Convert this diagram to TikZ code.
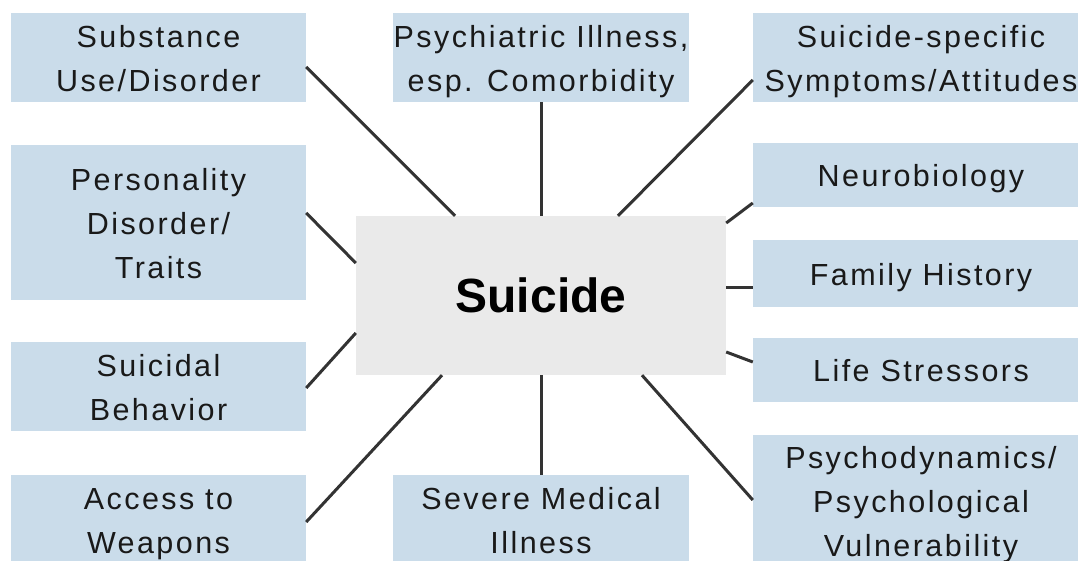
\documentclass[tikz,border=0pt]{standalone}
\usepackage{fontspec}
\setmainfont{Liberation Sans}
\newfontfamily\boxfont[LetterSpace=8]{Liberation Sans}
\newfontfamily\ctrfont{Liberation Sans}
\usetikzlibrary{calc}
\definecolor{boxblue}{HTML}{CADCEA}
\definecolor{ctrgray}{HTML}{EAEAEA}
\definecolor{linegray}{HTML}{333333}
\newcommand{\tx}[1]{\raisebox{-3pt}[\height][\depth]{\begin{tabular}{@{}c@{}}#1\end{tabular}}}
\begin{document}
\begin{tikzpicture}[x=1pt,y=1pt,
  factor/.style={fill=boxblue, draw=none, inner sep=0pt, align=center,
    font=\boxfont\fontsize{30.5}{44}\selectfont, text=black!90},
  hub/.style={fill=ctrgray, draw=none, inner sep=0pt, align=center,
    font=\ctrfont\bfseries\fontsize{48}{52}\selectfont},
  link/.style={draw=linegray, line width=3pt}]
\useasboundingbox (0,0) rectangle (1078,560);
\clip (0,0) rectangle (1078,560);
% left column
\node[factor, minimum width=295pt, minimum height=89pt] (sub) at (158.5,502.5) {\tx{Substance\\Use/Disorder}};
\node[factor, minimum width=295pt, minimum height=155pt] (per) at (158.5,337.5) {\tx{Personality\\Disorder/\\Traits}};
\node[factor, minimum width=295pt, minimum height=89pt] (beh) at (158.5,173.5) {\tx{Suicidal\\Behavior}};
\node[factor, minimum width=295pt, minimum height=89pt] (acc) at (158.5,40.5) {\tx{Access to\\Weapons}};
% middle column
\node[factor, minimum width=296pt, minimum height=89pt] (psy) at (541,502.5) {\tx{Psychiatric Illness,\\esp. Comorbidity}};
\node[factor, minimum width=296pt, minimum height=89pt] (med) at (541,40.5) {\tx{Severe Medical\\Illness}};
\node[hub, minimum width=370pt, minimum height=159pt] (ctr) at (541,264.5) {Suicide};
% right column
\node[factor, minimum width=336pt, minimum height=89pt] (ssp) at (921,502.5) {\tx{Suicide-specific\\Symptoms/Attitudes}};
\node[factor, minimum width=336pt, minimum height=64pt] (neu) at (921,385) {\tx{Neurobiology}};
\node[factor, minimum width=336pt, minimum height=67pt] (fam) at (921,286.5) {\tx{Family History}};
\node[factor, minimum width=336pt, minimum height=64pt] (lif) at (921,190) {\tx{Life Stressors}};
\node[factor, minimum width=336pt, minimum height=128pt] (psd) at (921,59) {\tx{Psychodynamics/\\Psychological\\Vulnerability}};
% connectors
\draw[link] ([yshift=-9.5pt]sub.east) -- ([xshift=-86pt]ctr.north);
\draw[link] ([yshift=9.5pt]per.east) -- ([yshift=32.5pt]ctr.west);
\draw[link] ([yshift=-1.5pt]beh.east) -- ([yshift=-37.5pt]ctr.west);
\draw[link] ([yshift=-2.5pt]acc.east) -- ([xshift=-99pt]ctr.south);
\draw[link] (psy.south) -- (ctr.north);
\draw[link] (ctr.south) -- (med.north);
\draw[link] ([yshift=-22.5pt]ssp.west) -- ([xshift=77pt]ctr.north);
\draw[link] ([yshift=-28pt]neu.west) -- ([yshift=72.5pt]ctr.east);
\draw[link] ([yshift=7.5pt]ctr.east) -- ([yshift=7.5pt]ctr.east -| fam.west);
\draw[link] ([yshift=-56.5pt]ctr.east) -- ([yshift=8pt]lif.west);
\draw[link] ([xshift=101pt]ctr.south) -- ([yshift=1pt]psd.west);
\end{tikzpicture}
\end{document}
